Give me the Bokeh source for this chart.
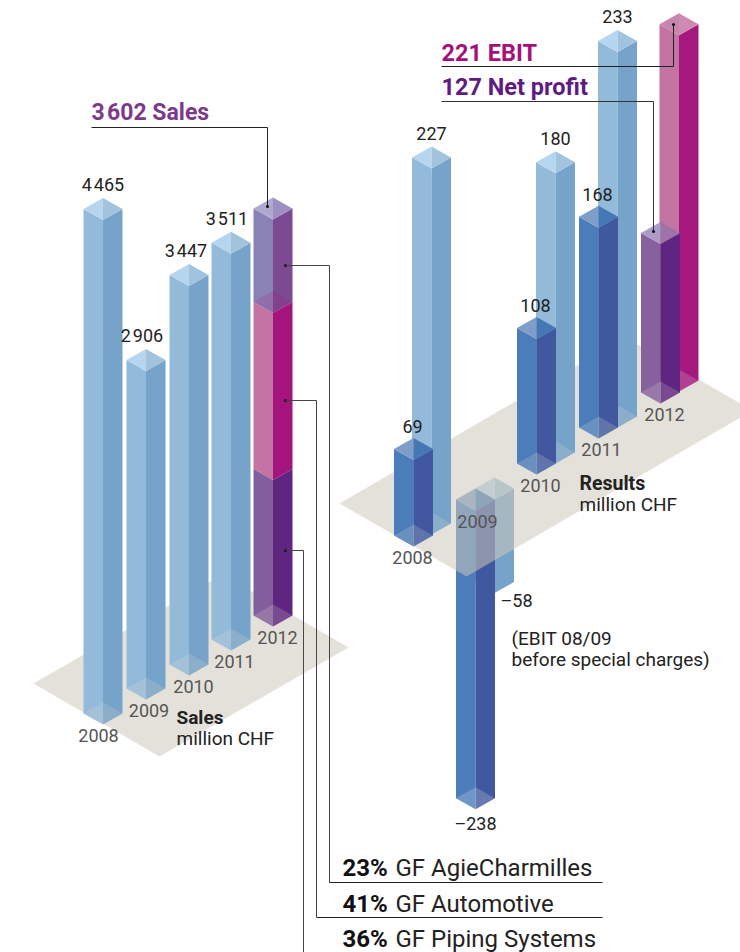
from bokeh.plotting import figure
from bokeh.models import Range1d
from bokeh.core.properties import value
from bokeh.embed import file_html
from bokeh.resources import INLINE

# ---------- data ----------
years = ["2008", "2009", "2010", "2011", "2012"]
sales = [4465, 2906, 3447, 3511, 3602]
ebit = [227, -58, 180, 233, 221]
net_profit = [69, -238, 108, 168, 127]
segment_names = ["GF AgieCharmilles", "GF Automotive", "GF Piping Systems"]
segment_shares = [23, 41, 36]

# ---------- layout ----------
W, H = 19.5, 11.0
SALES_K, EBIT_K, NET_K = 0.113, 1.612, 1.255
sales_x = [102.5, 145.5, 188.5, 230.5, 272.5]
sales_base = [724, 699, 675, 650, 626]
ebit_x = [431, 494, 555, 617, 678.5]
ebit_base = [534, 499, 463, 427, 391]
net_x = [413, 475, 536, 598, 660]
net_base = [546, 510, 474, 438, 403]
FONT = "Roboto"
PLATFORM = "#e3e1d9"

p = figure(width=740, height=952, x_range=Range1d(0, 740), y_range=Range1d(952, 0),
           output_backend="svg", toolbar_location=None, min_border=0,
           background_fill_color="white", border_fill_color="white", outline_line_color=None)
p.axis.visible = False
p.grid.visible = False


def poly(xs, ys, color, alpha=1.0):
    p.patch(xs, ys, fill_color=color, fill_alpha=alpha, line_color=None)


def faces(x, yt, yb, left, right):
    poly([x - W, x, x, x - W], [yt - H, yt, yb, yb - H], left)
    poly([x, x + W, x + W, x], [yt, yt - H, yb - H, yb], right)


def cap(x, yt, cl, cr, alpha=1.0):
    poly([x - W, x, x], [yt - H, yt - 2 * H, yt], cl, alpha)
    poly([x, x + W, x], [yt - 2 * H, yt - H, yt], cr, alpha)


def floor(x, yb, alpha=0.2, color=PLATFORM):
    poly([x - W, x, x + W, x], [yb - H, yb - 2 * H, yb - H, yb], color, alpha)


def line(xs, ys, color="#222222", width=1.0):
    p.line(xs, ys, line_color=color, line_width=width)


def dot(x, y):
    p.scatter([x], [y], size=3, marker="circle", fill_color="#111111", line_color=None)


def label(x, y, s, size=18, color="#222222", style="normal", align="left"):
    p.text([x], [y], text=[s], text_font=value(FONT), text_font_size=f"{size}px",
           text_color=color, text_font_style=style, text_align=align, text_baseline="middle")


def thousands(v):
    s = str(v)
    return s[:-3] + "\u200a" + s[-3:]


BLUE = ("#94bada", "#76a3c9", "#b6d5ef", "#a1c3de")
NAVY = ("#4a7dba", "#4158a0", "#7f9dc9", "#4378b5")

# ---------- platforms ----------
poly([33, 222, 348, 159], [683, 574, 647, 756], PLATFORM)

# ---------- results: negative bars sink below the platform ----------
for series, xs, bases, k, col in ((ebit, ebit_x, ebit_base, EBIT_K, BLUE),
                                  (net_profit, net_x, net_base, NET_K, NAVY)):
    for v, x, b in zip(series, xs, bases):
        if v < 0:
            yb = b - v * k
            faces(x, b, yb, col[0], col[1])
            cap(x, b, col[2], col[3])
            if series is net_profit:
                floor(x, yb, 0.2, "#ffffff")
poly([339, 625, 752, 466], [503, 337, 410, 576], "#ccc8ba", 0.55)

# ---------- sales bars ----------
for v, x, b in zip(sales[:-1], sales_x[:-1], sales_base[:-1]):
    yt = b - v * SALES_K
    faces(x, yt, b, BLUE[0], BLUE[1])
    cap(x, yt, BLUE[2], BLUE[3])
    floor(x, b)

seg_colors = [("#8a82b4", "#7c4a92", "#b0a8d0", "#9d90c0"),
              ("#c374a3", "#a5147d"),
              ("#835d9c", "#5f2580")]
x, b = sales_x[4], sales_base[4]
y = b - sales[4] * SALES_K
tops = []
for share, c in zip(segment_shares, seg_colors):
    y2 = y + sales[4] * SALES_K * share / 100
    faces(x, y, y2, c[0], c[1])
    tops.append(y)
    y = y2
# the middle part's top shows faintly through the upper part
cap(x, tops[1], "#a5147d", "#a5147d", 0.18)
cap(x, tops[0], seg_colors[0][2], seg_colors[0][3])
floor(x, b)

# ---------- results: positive bars ----------
for i, (v, x_, b_) in enumerate(zip(ebit, ebit_x, ebit_base)):
    if v < 0:
        continue
    col = ("#c374a3", "#a5197f", "#c985b0", "#cf8ab4") if years[i] == "2012" else BLUE
    yt = b_ - v * EBIT_K
    faces(x_, yt, b_, col[0], col[1])
    cap(x_, yt, col[2], col[3])
    floor(x_, b_)
for i, (v, x_, b_) in enumerate(zip(net_profit, net_x, net_base)):
    if v < 0:
        continue
    col = ("#87609e", "#602580", "#ac9cc8", "#9f72a8") if years[i] == "2012" else NAVY
    yt = b_ - v * NET_K
    faces(x_, yt, b_, col[0], col[1])
    cap(x_, yt, col[2], col[3])
    floor(x_, b_)

# ---------- callouts ----------
x5, yt5 = sales_x[4], sales_base[4] - sales[4] * SALES_K
line([91, 267, 267], [127, 127, yt5 - 13], "#222222")
dot(267, yt5 - 13)
for (yd, xv, yh, xe) in ((265, 329, 882, 602), (400, 316, 917, 602), (550, 303, 952, 602)):
    dot(285, yd)
    line([285, xv, xv], [yd, yd, yh], "#444444")
    line([xv, xe], [yh, yh], "#222222")
line([441, 673, 673], [66, 66, 24], "#222222")
dot(673, 24)
line([441, 653, 653], [101, 101, 231], "#333333")
dot(653, 231)

# ---------- texts ----------
GREY = "#555555"
for v, x_, b_, dx in zip(sales, sales_x, sales_base, (0, -4, -3, -4, 0)):
    if v != sales[4]:
        label(x_ + dx, b_ - v * SALES_K - 2 * H - 13.5, thousands(v), 18, align="center")
for yr, x_, b_, dx in zip(years, sales_x, sales_base, (-4.5, 3, 4.5, 3.5, 4.5)):
    label(x_ + dx, b_ + 11, yr, 18, GREY, align="center")
for v, x_, b_ in zip(ebit, ebit_x, ebit_base):
    if v > 0 and v != ebit[4]:
        label(x_, b_ - v * EBIT_K - 2 * H - 13, str(v), 18, align="center")
for v, x_, b_ in zip(net_profit, net_x, net_base):
    if v > 0 and v != net_profit[4]:
        label(x_ - 1, b_ - v * NET_K - 2 * H - 11, str(v), 18, align="center")
for yr, x_, b_, dx in zip(years, net_x, net_base, (-1, 2, 4, 3, 4)):
    label(x_ + dx, b_ + 11, yr, 18, GREY, align="center")

label(500, ebit_base[1] - ebit[1] * EBIT_K + 8, "\u2013" + str(-ebit[1]), 18)
label(475, net_base[1] - net_profit[1] * NET_K + 14, "\u2013" + str(-net_profit[1]), 18, align="center")
label(511, 638, "(EBIT 08/09", 19)
label(511, 659, "before special charges)", 19)
label(176, 717, "Sales", 19, style="bold")
label(176, 738, "million CHF", 19)
label(579, 483, "Results", 19.5, style="bold")
label(579, 504, "million CHF", 19)

label(91, 112, thousands(sales[4]) + " Sales", 23, "#7d3a8a", "bold")
label(441, 52, f"{ebit[4]} EBIT", 23.5, "#a5107a", "bold")
label(441, 86, f"{net_profit[4]} Net profit", 23.5, "#5f1c80", "bold")

for share, name, yy in zip(segment_shares, segment_names, (867, 903, 938)):
    label(342, yy, f"{share}%", 24, "#111111", "bold")
    label(395, yy, name, 24, "#222222")

open("out.html", "w").write(file_html(p, INLINE))
